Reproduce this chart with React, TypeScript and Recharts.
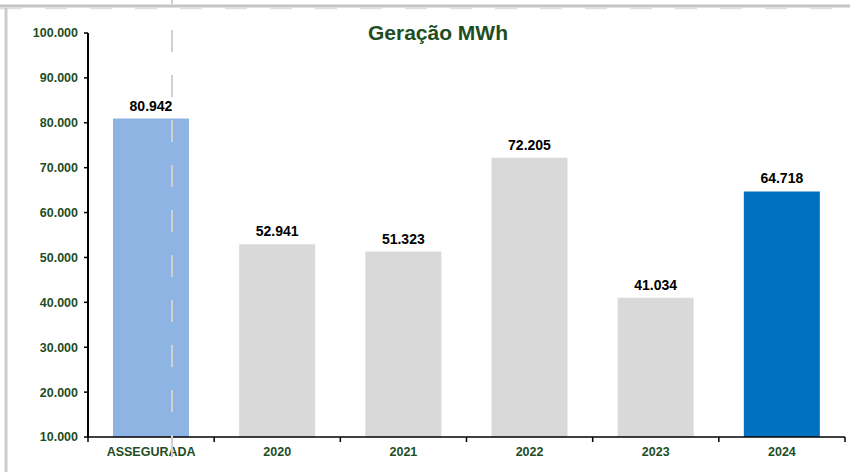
import React from 'react';
import { BarChart, Bar, XAxis, YAxis, Cell, LabelList } from 'recharts';

const categories = ['ASSEGURADA', '2020', '2021', '2022', '2023', '2024'];
const generation = [80942, 52941, 51323, 72205, 41034, 64718];
const barColors = ['#8EB4E3', '#D9D9D9', '#D9D9D9', '#D9D9D9', '#D9D9D9', '#0070C0'];
const yTicks = [10000, 20000, 30000, 40000, 50000, 60000, 70000, 80000, 90000, 100000];

const data = categories.map((name, i) => ({ name, value: generation[i] }));

const GREEN = '#1E4D1E';
const FONT = '"Liberation Sans", Arial, sans-serif';

const formatThousands = (v: number) =>
  new Intl.NumberFormat('pt-BR').format(v);

const CategoryTick = (props: any) => {
  const { x, y, payload, index } = props;
  const half = payload && payload.offset ? payload.offset : 63;
  const axisY = y - 8;
  return (
    <g>
      <line x1={x - half} y1={axisY} x2={x - half} y2={axisY + 5} stroke="#000" strokeWidth={1.5} />
      {index === categories.length - 1 && (
        <line x1={x + half} y1={axisY} x2={x + half} y2={axisY + 5} stroke="#000" strokeWidth={1.5} />
      )}
      <text x={x} y={axisY + 19} textAnchor="middle" fill={GREEN} fontSize={12.5} fontWeight="bold" fontFamily={FONT}>
        {payload.value}
      </text>
    </g>
  );
};

export default function App() {
  return (
    <div style={{ position: 'fixed', left: 0, top: 0, width: 850, height: 472, background: '#fff', overflow: 'hidden' }}>
      <BarChart
        width={850}
        height={472}
        data={data}
        margin={{ top: 33, right: 5, bottom: 5, left: 8 }}
        barCategoryGap={25}
      >
        <XAxis
          dataKey="name"
          axisLine={{ stroke: '#000', strokeWidth: 1.5 }}
          tickLine={false}
          tick={<CategoryTick />}
          height={30}
          interval={0}
        />
        <YAxis
          domain={[10000, 100000]}
          ticks={yTicks}
          allowDataOverflow
          width={80}
          axisLine={{ stroke: '#000', strokeWidth: 2 }}
          tickLine={{ stroke: '#000', strokeWidth: 1.5 }}
          tickSize={4}
          tickMargin={6}
          tickFormatter={formatThousands}
          tick={{ fill: GREEN, fontSize: 12.5, fontWeight: 'bold', fontFamily: FONT }}
        />
        <Bar dataKey="value" isAnimationActive={false}>
          {data.map((entry, index) => (
            <Cell key={`cell-${index}`} fill={barColors[index]} />
          ))}
          <LabelList
            dataKey="value"
            position="top"
            offset={8}
            formatter={(v: any) => formatThousands(Number(v))}
            style={{ fill: '#000', fontSize: 14, fontWeight: 'bold', fontFamily: FONT }}
          />
        </Bar>
        <text x={438} y={40} textAnchor="middle" fill={GREEN} fontSize={21} fontWeight="bold" fontFamily={FONT}>
          Geração MWh
        </text>
      </BarChart>
      <svg width={850} height={472} style={{ position: 'absolute', left: 0, top: 0, pointerEvents: 'none' }}>
        <line x1={0} y1={6} x2={850} y2={6} stroke="#C4C4C4" strokeWidth={3} />
        <line x1={0} y1={8.5} x2={850} y2={8.5} stroke="#E0E0E0" strokeWidth={1.5} strokeDasharray="22 23" />
        <line x1={6} y1={8} x2={6} y2={472} stroke="#CCCCCC" strokeWidth={3} />
        <line x1={172} y1={0} x2={172} y2={6} stroke="#D0D0D0" strokeWidth={2} />
        <line x1={172} y1={30} x2={172} y2={472} stroke="#D0D0D0" strokeWidth={2} strokeDasharray="22 23" />
      </svg>
    </div>
  );
}
